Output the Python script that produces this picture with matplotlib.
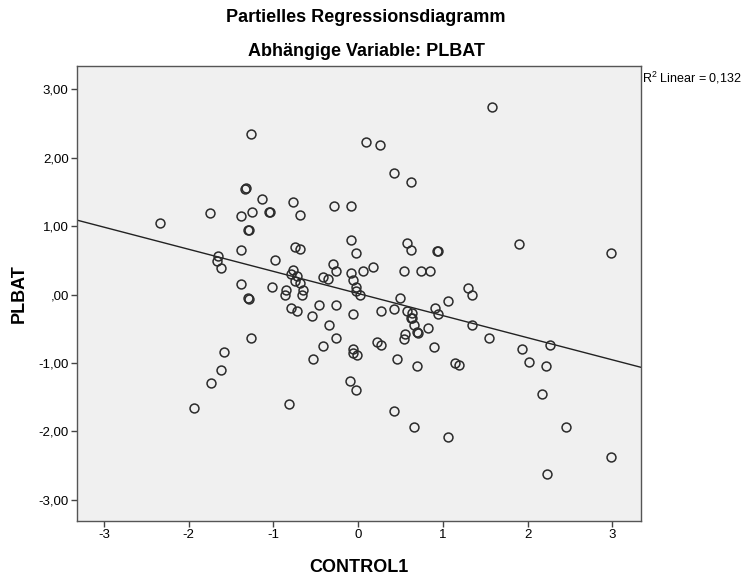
"""
Partial regression plot (SPSS style): PLBAT vs CONTROL1
"""

import numpy as np
import matplotlib.pyplot as plt

# ---------------------------------------------------------------------------- #
# Data
# ---------------------------------------------------------------------------- #
control1 = [-2.34, -1.75, -1.65, -1.67, -1.62,
            -1.26, 0.09, -1.34, -1.33, -1.14, -0.77, -0.29, -0.09,
            -1.38, -1.25, -1.05, -1.04, -0.69, -1.30, -1.29, -0.09,
            -1.38, -0.74, -0.69, -0.02, -0.98, -0.30, -0.26, -0.09,
            0.06, 0.18, -0.77, -0.79, -0.72, -0.75, -0.69, -1.38,
            -1.02, -0.85, -0.86, -0.65, -0.66, -0.42, -0.36, -0.06,
            -0.02, -0.02, 0.02, -1.30, -1.29,
            -0.79, -0.72, -0.46, -0.26, -0.54, -0.06, -0.34, -1.26,
            -0.26, -0.42, -0.06, -0.06, -0.01, -0.53, -0.10, -0.02,
            -0.82, -1.58, -1.62, -1.74, -1.94,
            1.58, 0.26, 0.42, 0.62, 0.58, 0.62, 0.93, 0.94, 0.54,
            0.74, 0.85, 1.30, 1.34, 0.50,
            1.06, 0.27, 0.42, 0.58, 0.63, 0.62, 0.63, 0.91, 0.94,
            0.66, 0.70, 0.71, 0.55, 0.54, 0.83, 1.35, 1.54, 0.22,
            0.27, 0.90, 0.46, 0.70, 1.14, 1.19, 0.42, 0.66, 1.06,
            1.90, 2.98, 2.27, 1.94, 2.02, 2.22, 2.17, 2.46, 2.99, 2.23]
plbat = [1.04, 1.19, 0.56, 0.49, 0.39,
         2.34, 2.23, 1.54, 1.55, 1.40, 1.35, 1.30, 1.30,
         1.15, 1.20, 1.20, 1.21, 1.16, 0.95, 0.94, 0.80,
         0.65, 0.69, 0.66, 0.61, 0.50, 0.45, 0.35, 0.31,
         0.34, 0.40, 0.36, 0.30, 0.27, 0.20, 0.17, 0.15,
         0.11, 0.07, -0.01, 0.06, -0.01, 0.25, 0.22, 0.21,
         0.11, 0.05, 0.00, -0.05, -0.06,
         -0.20, -0.24, -0.15, -0.15, -0.31, -0.29, -0.45, -0.64,
         -0.64, -0.75, -0.79, -0.85, -0.89, -0.94, -1.26, -1.39,
         -1.60, -0.84, -1.10, -1.30, -1.66,
         2.74, 2.18, 1.78, 1.64, 0.75, 0.65, 0.64, 0.63, 0.35,
         0.35, 0.34, 0.10, -0.01, -0.05,
         -0.10, -0.24, -0.21, -0.24, -0.27, -0.34, -0.35, -0.19, -0.29,
         -0.45, -0.55, -0.56, -0.58, -0.65, -0.49, -0.44, -0.64, -0.70,
         -0.74, -0.76, -0.94, -1.04, -1.00, -1.03, -1.70, -1.94, -2.08,
         0.74, 0.61, -0.74, -0.79, -0.99, -1.05, -1.45, -1.94, -2.38, -2.62]

# Fit line as drawn in the picture
line_slope = -0.323
line_intercept = 0.015
r2_text = r'R$^2$ Linear = 0,132'

x_ticks = [-3, -2, -1, 0, 1, 2, 3]
x_ticklabels = ['-3', '-2', '-1', '0', '1', '2', '3']
y_ticks = [3, 2, 1, 0, -1, -2, -3]
y_ticklabels = ['3,00', '2,00', '1,00', ',00', '-1,00', '-2,00', '-3,00']

title = 'Partielles Regressionsdiagramm'
subtitle = 'Abhängige Variable: PLBAT'
x_label = 'CONTROL1'
y_label = 'PLBAT'

# ---------------------------------------------------------------------------- #
# Plot
# ---------------------------------------------------------------------------- #
plt.rcParams['font.family'] = ['Liberation Sans', 'DejaVu Sans']
plt.rcParams['mathtext.fontset'] = 'custom'
plt.rcParams['mathtext.rm'] = 'Liberation Sans'

fig = plt.figure(figsize=(7.49, 5.79), dpi=100)
ax = fig.add_axes([77/749, 1 - 521/579, (641 - 77)/749, (521 - 66)/579])
ax.set_facecolor('#f0f0f0')

xlims = (-3.32, 3.34)
ylims = (-3.31, 3.34)

xs = np.array(xlims)
ax.plot(xs, line_intercept + line_slope*xs, color='#222222', lw=1.0, zorder=2)

ax.plot(control1, plbat, linestyle='none', marker='o', ms=6.4,
        mfc='none', mec='#2b2b2b', mew=1.1, zorder=3)

ax.set_xlim(xlims)
ax.set_ylim(ylims)
ax.set_xticks(x_ticks)
ax.set_xticklabels(x_ticklabels)
ax.set_yticks(y_ticks)
ax.set_yticklabels(y_ticklabels)
ax.tick_params(direction='out', length=4, width=1, color='#444444',
               labelsize=9.5, pad=2)

for spine in ax.spines.values():
    spine.set_color('#555555')
    spine.set_linewidth(1.0)

ax.set_xlabel(x_label, fontsize=13, fontweight='bold')
ax.set_ylabel(y_label, fontsize=13, fontweight='bold')
ax.xaxis.set_label_coords(0.5, -0.083)
ax.yaxis.set_label_coords(-0.088, 0.5)

fig.text(366/749, 1 - 17/579, title, ha='center', va='center',
         fontsize=13, fontweight='bold')
fig.text(366/749, 1 - 51/579, subtitle, ha='center', va='center',
         fontsize=13, fontweight='bold')
fig.text(642/749, 1 - 78/579, r2_text, ha='left', va='center', fontsize=9)

fig.savefig('out.png', dpi=100)
plt.close()
